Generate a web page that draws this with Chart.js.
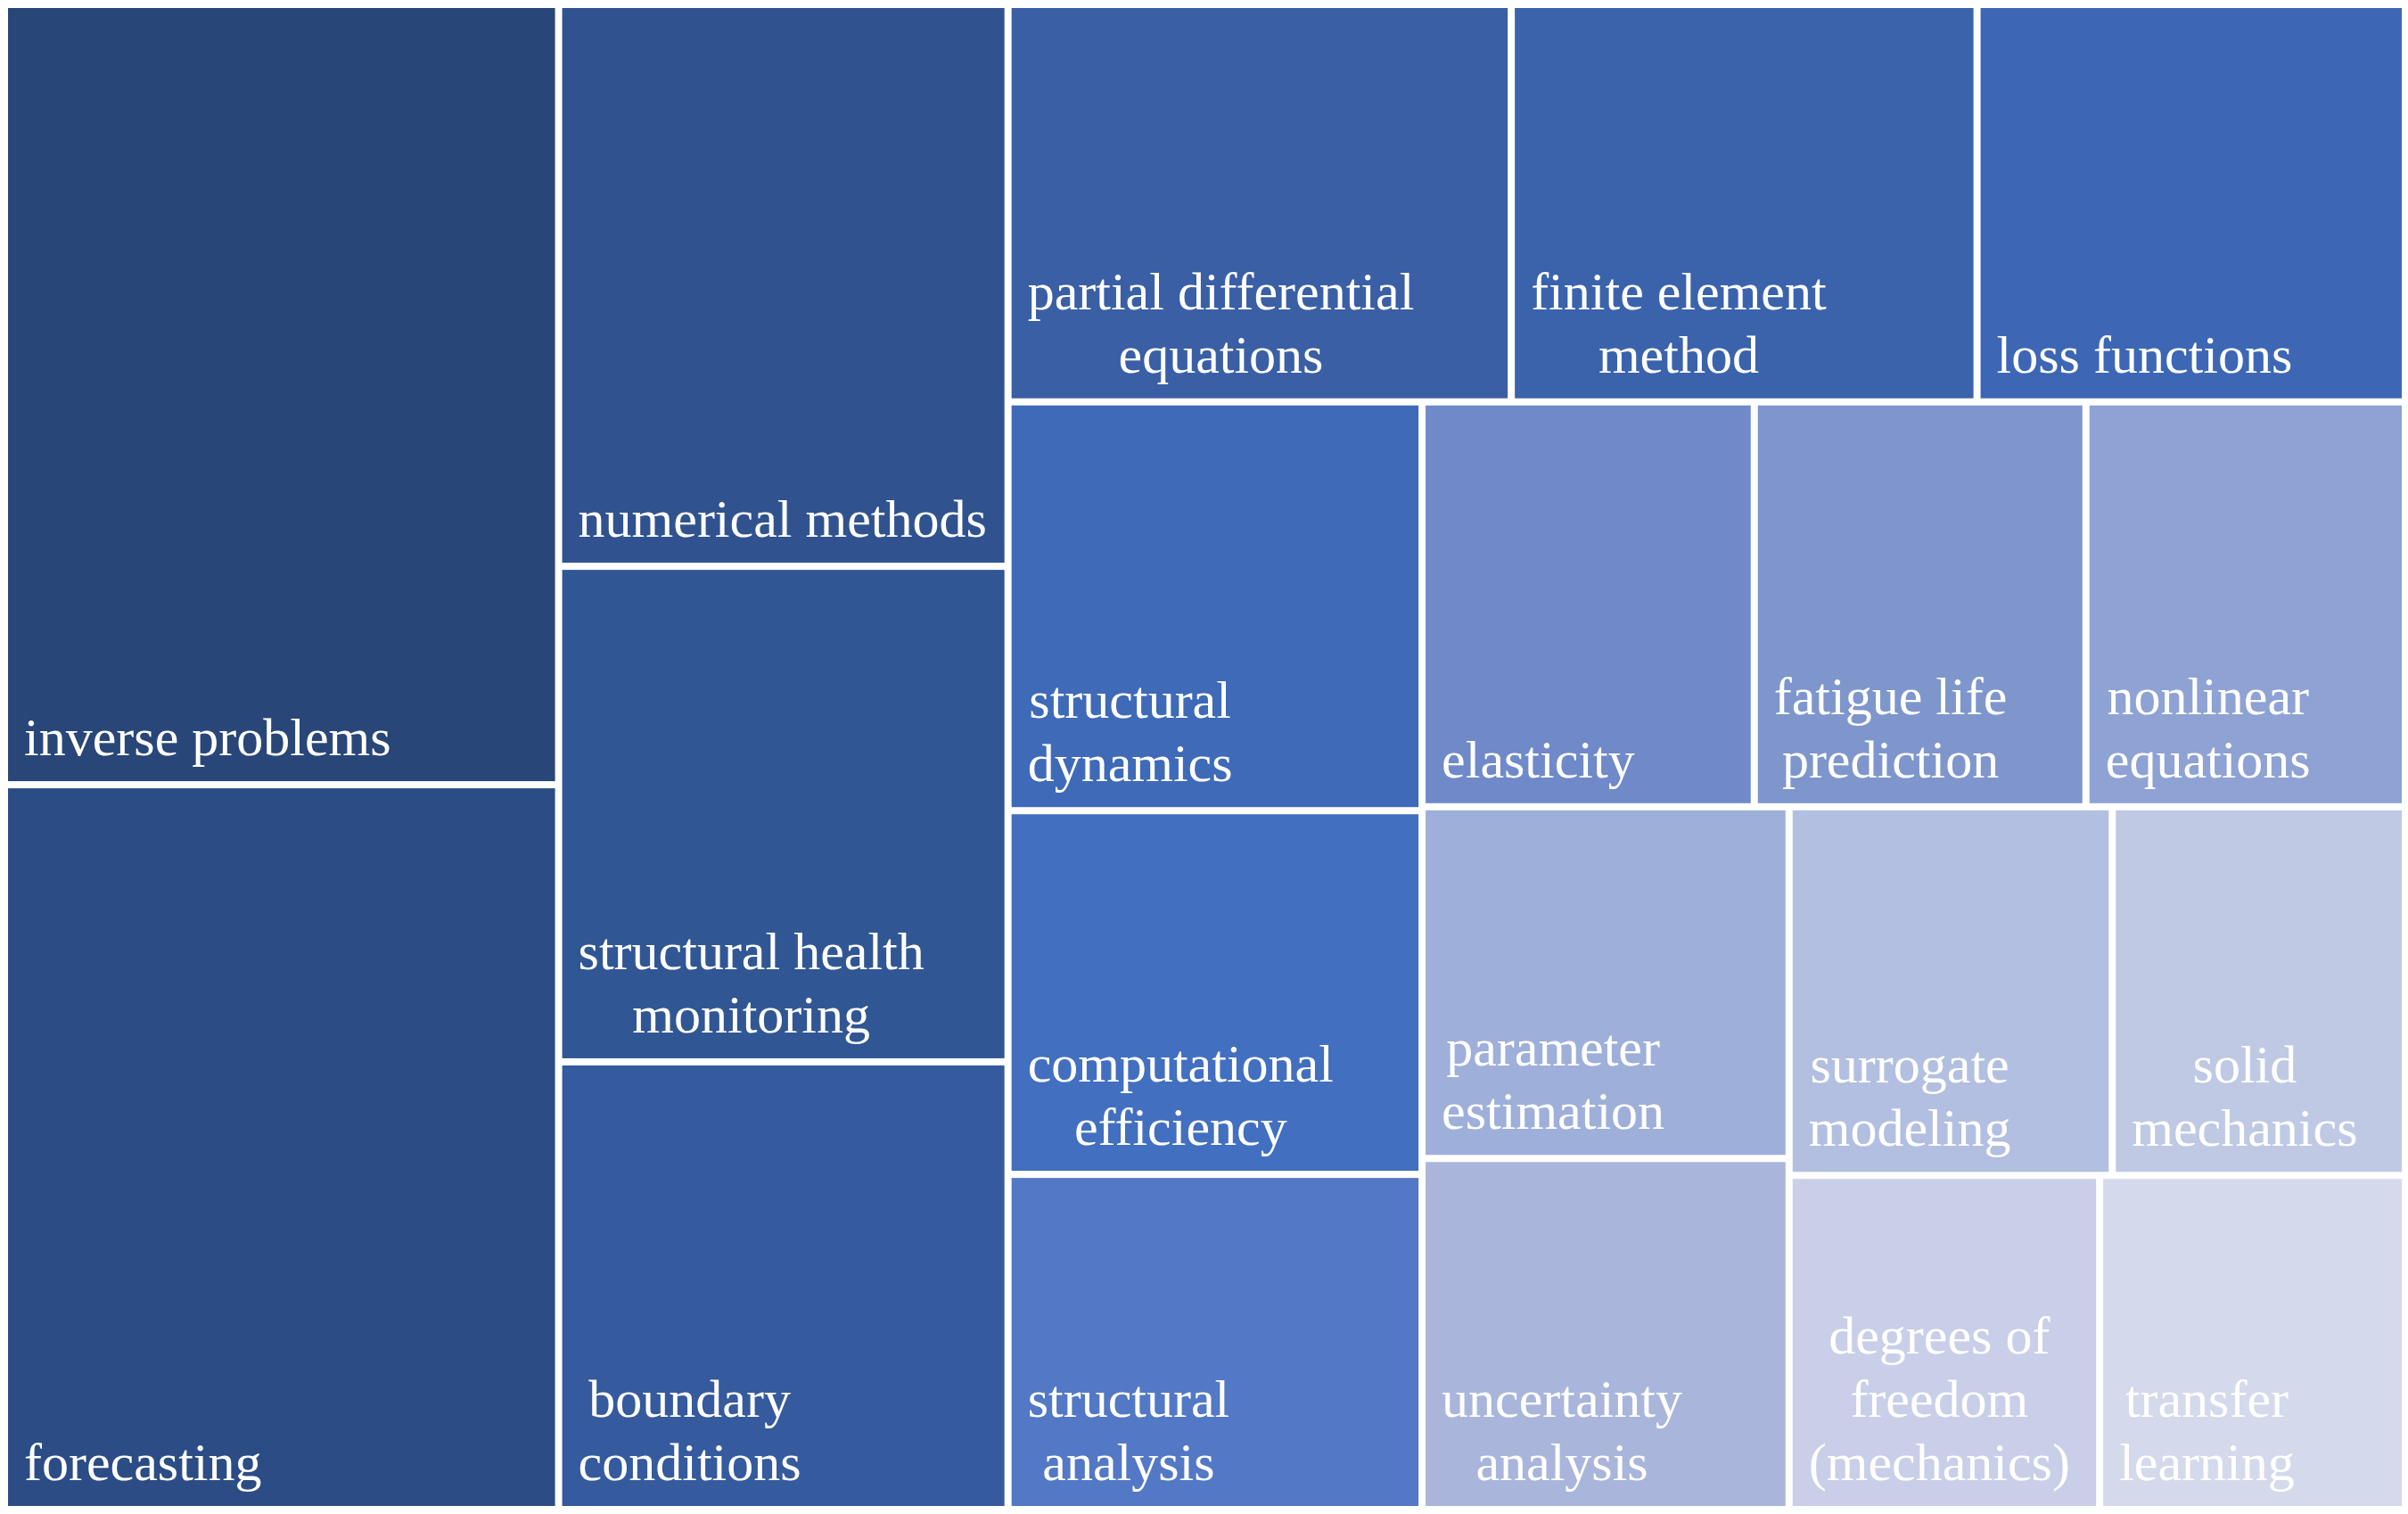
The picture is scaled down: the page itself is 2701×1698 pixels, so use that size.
<!DOCTYPE html>
<html>
<head>
    <title>Keyword treemap</title>
    <script src="https://cdn.jsdelivr.net/npm/chart.js"></script>
    <style>
        body { margin: 0; background: #fff; }
        #wrap { width: 2701px; height: 1698px; position: relative; }
    </style>
</head>
<body>
    <div id="wrap"><canvas id="chart"></canvas></div>

    <script>
        // keywords and their sizes
        const keywords = [
            'inverse problems', 'forecasting', 'numerical methods', 'structural health monitoring',
            'boundary conditions', 'partial differential equations', 'finite element method', 'loss functions',
            'structural dynamics', 'computational efficiency', 'structural analysis', 'elasticity',
            'fatigue life prediction', 'nonlinear equations', 'parameter estimation', 'uncertainty analysis',
            'surrogate modeling', 'solid mechanics', 'degrees of freedom (mechanics)', 'transfer learning'
        ];
        const sizes = [
            182.9, 169.9, 106.8, 94.2,
            85.1, 84.6, 78.3, 72.0,
            71.6, 63.7, 58.7, 56.9,
            56.8, 54.7, 54.6, 54.5,
            50.4, 45.7, 43.9, 43.2
        ];
        // fill colour per cell, dark -> light
        const palette = [
            '#294679', '#2c4c85', '#30538f', '#315694',
            '#355a9d', '#3a5fa5', '#3b63ac', '#3d67b4',
            '#3e6ab8', '#426fbf', '#5378c5', '#6f89c9',
            '#7e96cc', '#8ea2d3', '#9eafd9', '#a9b5db',
            '#b3bfe0', '#bfc9e4', '#c9cfe8', '#d4d9eb'
        ];

        const X_MAX = 2693, Y_MAX = 1688;
        const GAP = 8;
        const FONT = "60px 'Liberation Serif', 'Times New Roman', serif";
        const PAD = 18, LINE_H = 71, BASE_OFF = 29;

        // worst aspect ratio of a row laid along a side
        function worst(row, side) {
            const s = row.reduce((a, b) => a + b, 0);
            let w = 0;
            row.forEach(r => {
                w = Math.max(w, (side * side * r) / (s * s), (s * s) / (side * side * r));
            });
            return w;
        }

        // squarified treemap (Bruls et al.)
        function squarify(areas, x, y, w, h) {
            const out = [];
            let i = 0;
            while (i < areas.length) {
                const side = Math.min(w, h);
                const row = [areas[i]];
                let j = i + 1;
                while (j < areas.length && worst(row.concat(areas[j]), side) <= worst(row, side)) {
                    row.push(areas[j]);
                    j++;
                }
                const sum = row.reduce((a, b) => a + b, 0);
                if (w >= h) {
                    const cw = sum / h;
                    let cy = y;
                    row.forEach(a => { const ch = a / cw; out.push({x0: x, x1: x + cw, y0: cy, y1: cy + ch}); cy += ch; });
                    x += cw; w -= cw;
                } else {
                    const rh = sum / w;
                    let cx = x;
                    row.forEach(a => { const rw = a / rh; out.push({x0: cx, x1: cx + rw, y0: y, y1: y + rh}); cx += rw; });
                    y += rh; h -= rh;
                }
                i = j;
            }
            return out;
        }

        const order = sizes.map((v, i) => i).sort((a, b) => sizes[b] - sizes[a]);
        const total = sizes.reduce((a, b) => a + b, 0);
        const k = (X_MAX * Y_MAX) / total;
        const rects = squarify(order.map(i => sizes[i] * k), 0, 0, X_MAX, Y_MAX);

        const cells = rects.map((r, n) => {
            const i = order[n];
            return {
                x: (r.x0 + r.x1) / 2, y: (r.y0 + r.y1) / 2,
                x0: r.x0, x1: r.x1, y0: r.y0, y1: r.y1,
                label: keywords[i], value: sizes[i], color: palette[i]
            };
        });

        function wrapText(ctx, text, maxW) {
            const words = text.split(' ');
            const lines = [];
            let cur = '';
            words.forEach(wd => {
                const test = cur ? cur + ' ' + wd : wd;
                if (cur && ctx.measureText(test).width > maxW) {
                    lines.push(cur);
                    cur = wd;
                } else {
                    cur = test;
                }
            });
            if (cur) lines.push(cur);
            return lines;
        }

        const treemapCells = {
            id: 'treemapCells',
            afterDatasetsDraw(chart) {
                const {ctx, scales: {x, y}} = chart;
                const data = chart.data.datasets[0].data;
                ctx.save();
                data.forEach(c => {
                    const left = x.getPixelForValue(c.x0) + GAP / 2;
                    const right = x.getPixelForValue(c.x1) - GAP / 2;
                    const top = y.getPixelForValue(c.y0) + GAP / 2;
                    const bottom = y.getPixelForValue(c.y1) - GAP / 2;
                    ctx.fillStyle = c.color;
                    ctx.fillRect(left, top, right - left, bottom - top);

                    ctx.font = FONT;
                    ctx.fillStyle = '#ffffff';
                    ctx.textBaseline = 'alphabetic';
                    ctx.textAlign = 'left';
                    const lines = wrapText(ctx, c.label, right - left - 30);
                    const widths = lines.map(l => ctx.measureText(l).width);
                    const blockW = Math.max(...widths);
                    const bx = left + PAD;
                    lines.forEach((l, n) => {
                        const base = bottom - BASE_OFF - (lines.length - 1 - n) * LINE_H;
                        ctx.fillText(l, bx + (blockW - widths[n]) / 2, base);
                    });
                });
                ctx.restore();
            }
        };

        const chart = new Chart(document.getElementById('chart'), {
            type: 'scatter',
            data: {
                datasets: [{
                    label: 'keywords',
                    data: cells,
                    pointRadius: 0,
                    pointHoverRadius: 0
                }]
            },
            options: {
                responsive: true,
                maintainAspectRatio: false,
                animation: false,
                layout: { padding: { left: 5, right: 3, top: 5, bottom: 5 } },
                scales: {
                    x: { type: 'linear', min: 0, max: X_MAX, display: false },
                    y: { type: 'linear', min: 0, max: Y_MAX, reverse: true, display: false }
                },
                plugins: {
                    legend: { display: false },
                    tooltip: { enabled: false }
                }
            },
            plugins: [treemapCells]
        });
    </script>
</body>
</html>
